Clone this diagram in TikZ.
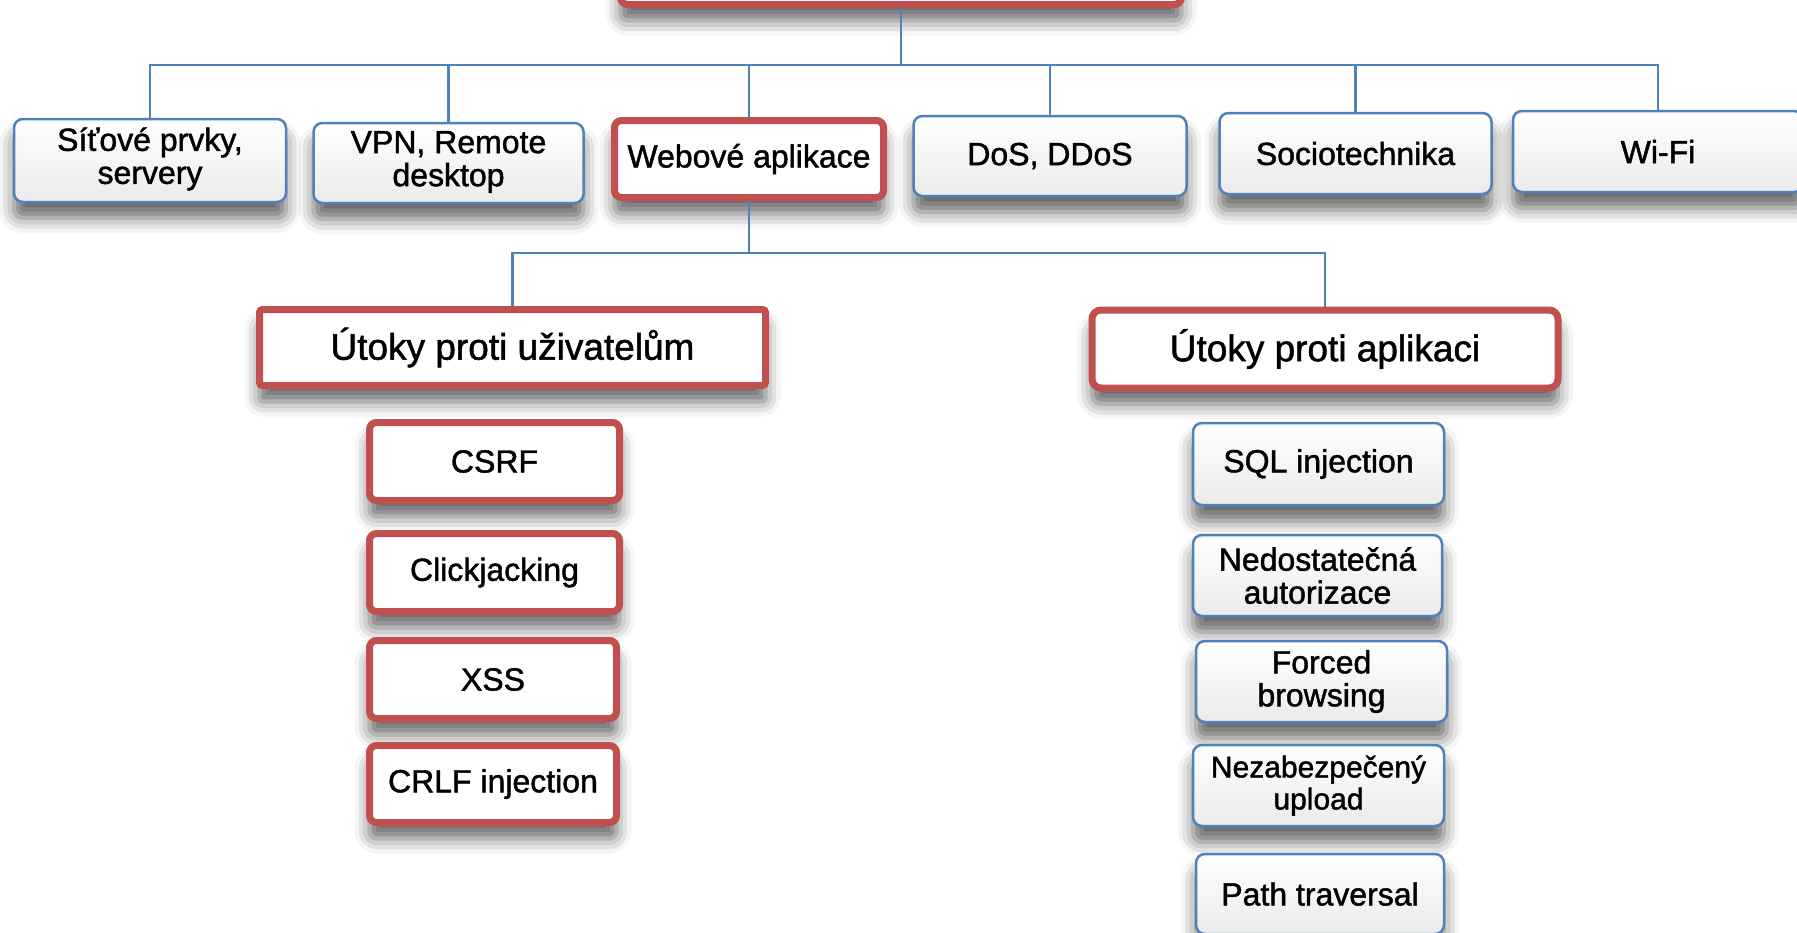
\documentclass[tikz,border=0pt]{standalone}
\usepackage{fontspec}
\setmainfont{Liberation Sans}[FakeBold=1.4]
\usetikzlibrary{shadows.blur}
\definecolor{boxred}{HTML}{C0504D}
\definecolor{lineblue}{HTML}{4F81BD}
\begin{document}
\begin{tikzpicture}[x=1pt,y=-1pt,
  box/.style={inner sep=0pt, align=center, font=\fontsize{32}{33}\selectfont,
    blur shadow={shadow xshift=0pt, shadow yshift=-16pt, shadow blur radius=15pt, shadow opacity=60}},
  bluebox/.style={box, draw=lineblue, line width=2.5pt, rounded corners=9pt, top color=white, bottom color=black!8},
  redbox/.style={box, draw=boxred, line width=7pt, rounded corners=7pt, fill=white},
  bigtext/.style={font=\fontsize{37}{38}\selectfont},
  conn/.style={draw=lineblue, line width=2.2pt},
  wh/.style 2 args={minimum width=#1, minimum height=#2}]
\useasboundingbox (0,0) rectangle (1797,932);
% root
\node[redbox, wh={561pt}{70pt}] (root) at (901,-30.5) {};
% level 1
\node[bluebox, wh={272pt}{83pt}] (n1) at (150,160.5) {\raisebox{-2pt}{\begin{tabular}{@{}c@{}}Síťové prvky,\\servery\end{tabular}}};
\node[bluebox, wh={270pt}{80pt}] (n2) at (448.5,163) {\raisebox{-2pt}{\begin{tabular}{@{}c@{}}VPN, Remote\\desktop\end{tabular}}};
\node[redbox, wh={269pt}{77pt}] (n3) at (749,159) {\raisebox{-2pt}{Webové aplikace}};
\node[bluebox, wh={273pt}{80pt}] (n4) at (1050,156) {\raisebox{-2pt}{DoS, DDoS}};
\node[bluebox, wh={272pt}{81pt}] (n5) at (1355.5,153.5) {\raisebox{-2pt}{Sociotechnika}};
\node[bluebox, wh={290pt}{81pt}] (n6) at (1658,151.5) {\raisebox{-2pt}{Wi-Fi}};
% level 2
\node[redbox, bigtext, rounded corners=3pt, wh={506pt}{76pt}] (u) at (512.5,347.5) {Útoky proti uživatelům};
\node[redbox, bigtext, rounded corners=9pt, wh={466pt}{78pt}] (a) at (1325,349) {Útoky proti aplikaci};
% level 3 left
\node[redbox, wh={250pt}{78pt}] (c1) at (494.5,461.5) {CSRF};
\node[redbox, wh={250pt}{78pt}] (c2) at (494.5,572.5) {\raisebox{-2pt}{Clickjacking}};
\node[redbox, wh={247pt}{78pt}] (c3) at (493,679.5) {XSS};
\node[redbox, wh={247pt}{77pt}] (c4) at (493,784) {CRLF injection};
% level 3 right
\node[bluebox, wh={251pt}{82pt}] (s1) at (1318.5,464) {SQL injection};
\node[bluebox, wh={249pt}{81pt}] (s2) at (1317.5,575.5) {Nedostatečná\\autorizace};
\node[bluebox, wh={251pt}{81pt}] (s3) at (1321.5,681.5) {Forced\\browsing};
\node[bluebox, wh={251pt}{81pt}, font=\fontsize{30}{32}\selectfont] (s4) at (1318.5,785.5) {Nezabezpečený\\upload};
\node[bluebox, wh={248pt}{80pt}] (s5) at (1320,894) {Path traversal};
% connectors
\coordinate (bus1) at (0,65);
\coordinate (bus2) at (0,253);
\foreach \n in {n1,n2,n3,n4,n5,n6}
  \draw[conn] (root.south) -- (root.south |- bus1) -| (\n.north);
\draw[conn] (n3.south) -- (n3.south |- bus2) -| (u.north);
\draw[conn] (n3.south) -- (n3.south |- bus2) -| (a.north);
\end{tikzpicture}
\end{document}
